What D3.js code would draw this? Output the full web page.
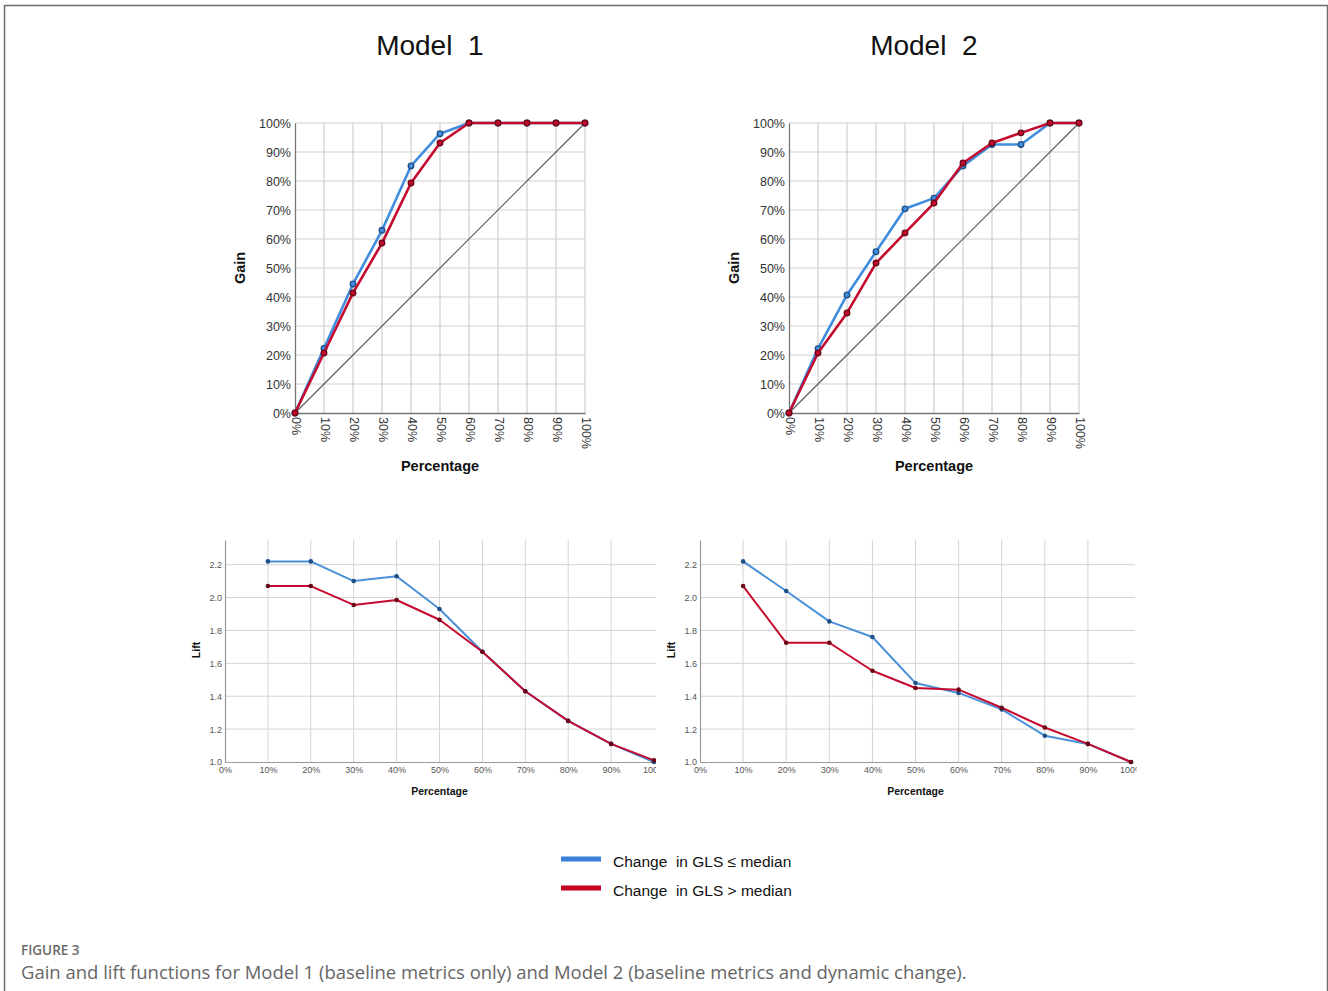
<!DOCTYPE html>
<html>
<head>
<meta charset="utf-8">
<script src="https://cdn.jsdelivr.net/npm/d3@7"></script>
<style>
  body { margin: 0; background: #fff; }
  svg text { white-space: pre; }
</style>
</head>
<body>
<svg id="fig" width="1328" height="991"></svg>
<script>
// percentages on the x axis
const pct = [0, 10, 20, 30, 40, 50, 60, 70, 80, 90, 100];
const liftPct = [10, 20, 30, 40, 50, 60, 70, 80, 90, 100];

// gain values (%)
const gain1Low = [0, 22.3, 44.5, 63, 85.2, 96.3, 100, 100, 100, 100, 100];
const gain1High = [0, 20.7, 41.4, 58.6, 79.3, 93.1, 100, 100, 100, 100, 100];
const gain2Low = [0, 22.2, 40.7, 55.6, 70.4, 74.1, 85.2, 92.6, 92.6, 100, 100];
const gain2High = [0, 20.7, 34.5, 51.7, 62.1, 72.4, 86.2, 93.1, 96.6, 100, 100];

// lift values
const lift1Low = [2.22, 2.22, 2.1, 2.13, 1.93, 1.67, 1.43, 1.25, 1.11, 1.0];
const lift1High = [2.07, 2.07, 1.955, 1.985, 1.865, 1.67, 1.43, 1.25, 1.11, 1.01];
const lift2Low = [2.22, 2.04, 1.855, 1.76, 1.48, 1.42, 1.32, 1.16, 1.11, 1.0];
const lift2High = [2.07, 1.725, 1.725, 1.555, 1.45, 1.44, 1.33, 1.21, 1.11, 1.0];

const gainTicks = [0, 10, 20, 30, 40, 50, 60, 70, 80, 90, 100];
const liftTicks = [1.0, 1.2, 1.4, 1.6, 1.8, 2.0, 2.2];

const seriesNames = ["Change  in GLS \u2264 median", "Change  in GLS > median"];

const blue = "#3f8ddc", red = "#c40a2e";
const blueDot = "#1f4f86", redDot = "#6a0617";
const sans = "'Liberation Sans', Arial, sans-serif";

const svg = d3.select("#fig");

// frame
svg.append("path")
  .attr("d", "M4.5,1000 V5.5 H1327.5 V1000")
  .attr("fill", "none")
  .attr("stroke", "#6e6e6e")
  .attr("stroke-width", 1.5);

function gainChart(left, low, high, title) {
  const x = d3.scaleLinear().domain([0, 100]).range([left, left + 290]);
  const y = d3.scaleLinear().domain([0, 100]).range([413, 123]);
  const g = svg.append("g");

  g.append("text")
    .attr("x", x(46.5))
    .attr("y", 55)
    .attr("text-anchor", "middle")
    .attr("font-family", sans)
    .attr("font-size", 28)
    .attr("fill", "#111")
    .text(title);

  // grid
  g.selectAll(".vg").data(gainTicks.slice(1)).enter().append("line")
    .attr("x1", (d) => x(d)).attr("x2", (d) => x(d))
    .attr("y1", y(0)).attr("y2", y(100))
    .attr("stroke", "#cfcfcf").attr("stroke-width", 1.2);
  g.selectAll(".hg").data(gainTicks.slice(1)).enter().append("line")
    .attr("x1", x(0)).attr("x2", x(100))
    .attr("y1", (d) => y(d)).attr("y2", (d) => y(d))
    .attr("stroke", "#cfcfcf").attr("stroke-width", 1.2);

  // axes
  const yAxis = g.append("g")
    .attr("transform", "translate(" + x(0) + ",0)")
    .call(d3.axisLeft(y).tickValues(gainTicks).tickSize(0).tickPadding(4)
      .tickFormat((d) => d + "%"));
  yAxis.select(".domain").attr("stroke", "#777").attr("stroke-width", 1.3);
  yAxis.selectAll("text")
    .attr("font-family", sans)
    .attr("font-size", 12.5).attr("fill", "#333");

  const xAxis = g.append("g")
    .attr("transform", "translate(0," + y(0) + ")")
    .call(d3.axisBottom(x).tickValues(gainTicks).tickSize(0)
      .tickFormat((d) => d + "%"));
  xAxis.select(".domain").attr("stroke", "#777").attr("stroke-width", 1.3);
  xAxis.selectAll("text")
    .attr("font-family", sans)
    .attr("font-size", 12.5).attr("fill", "#333")
    .attr("text-anchor", "start")
    .attr("dy", null)
    .attr("dominant-baseline", "central")
    .attr("transform", "translate(0,4) rotate(90)")
    .attr("y", 0).attr("x", 0);

  g.append("text")
    .attr("transform", "translate(" + (x(0) - 50) + "," + y(50) + ") rotate(-90)")
    .attr("text-anchor", "middle")
    .attr("font-family", sans)
    .attr("font-weight", "bold").attr("font-size", 14.5).attr("fill", "#111")
    .text("Gain");
  g.append("text")
    .attr("x", x(50)).attr("y", 471)
    .attr("text-anchor", "middle")
    .attr("font-family", sans)
    .attr("font-weight", "bold").attr("font-size", 14.5).attr("fill", "#111")
    .text("Percentage");

  // diagonal baseline
  g.append("line")
    .attr("x1", x(0)).attr("y1", y(0)).attr("x2", x(100)).attr("y2", y(100))
    .attr("stroke", "#555").attr("stroke-width", 1.1);

  const line = d3.line().x((d, i) => x(pct[i])).y((d) => y(d));
  [[low, blue, blueDot], [high, red, redDot]].forEach(([vals, c, dc]) => {
    g.append("path").datum(vals)
      .attr("d", line).attr("fill", "none")
      .attr("stroke", c).attr("stroke-width", 2.6)
      .attr("stroke-linejoin", "round");
    g.selectAll(null).data(vals).enter().append("circle")
      .attr("cx", (d, i) => x(pct[i])).attr("cy", (d) => y(d))
      .attr("r", 2.8).attr("fill", c)
      .attr("stroke", dc).attr("stroke-width", 1.3);
  });
}

function liftChart(left, right, clipRight, low, high) {
  const x = d3.scaleLinear().domain([0, 100]).range([left, right]);
  const y = d3.scaleLinear().domain([1.0, 2.35]).range([762, 540]);
  const id = "clip" + left;
  svg.append("clipPath").attr("id", id).append("rect")
    .attr("x", left - 60).attr("y", 500).attr("width", clipRight - left + 60).attr("height", 320);
  const g = svg.append("g").attr("clip-path", "url(#" + id + ")");

  g.selectAll(".vg").data(liftPct.slice(0, 9)).enter().append("line")
    .attr("x1", (d) => x(d)).attr("x2", (d) => x(d))
    .attr("y1", y(1.0)).attr("y2", y(2.35))
    .attr("stroke", "#d4d4d4").attr("stroke-width", 1);
  g.selectAll(".hg").data(liftTicks.slice(1)).enter().append("line")
    .attr("x1", x(0)).attr("x2", x(100) + 4)
    .attr("y1", (d) => y(d)).attr("y2", (d) => y(d))
    .attr("stroke", "#d4d4d4").attr("stroke-width", 1);

  const yAxis = g.append("g")
    .attr("transform", "translate(" + x(0) + ",0)")
    .call(d3.axisLeft(y).tickValues(liftTicks).tickSize(0).tickPadding(3)
      .tickFormat(d3.format(".1f")));
  yAxis.select(".domain").attr("stroke", "#999").attr("stroke-width", 1.2);
  yAxis.selectAll("text")
    .attr("font-family", sans)
    .attr("font-size", 9).attr("fill", "#555");

  const xAxis = g.append("g")
    .attr("transform", "translate(0," + y(1.0) + ")")
    .call(d3.axisBottom(x).tickValues(pct).tickSize(0).tickPadding(5)
      .tickFormat((d) => d + "%"));
  xAxis.select(".domain").attr("stroke", "#999").attr("stroke-width", 1.2);
  xAxis.selectAll("text")
    .attr("font-family", sans)
    .attr("font-size", 9).attr("fill", "#555");

  g.append("text")
    .attr("transform", "translate(" + (x(0) - 25) + "," + 650 + ") rotate(-90)")
    .attr("text-anchor", "middle")
    .attr("font-family", sans)
    .attr("font-weight", "bold").attr("font-size", 10.5).attr("fill", "#111")
    .text("Lift");
  g.append("text")
    .attr("x", x(50)).attr("y", 795)
    .attr("text-anchor", "middle")
    .attr("font-family", sans)
    .attr("font-weight", "bold").attr("font-size", 10.5).attr("fill", "#111")
    .text("Percentage");

  const line = d3.line().x((d, i) => x(liftPct[i])).y((d) => y(d));
  [[low, "#4a90d9", blueDot], [high, red, redDot]].forEach(([vals, c, dc]) => {
    g.append("path").datum(vals)
      .attr("d", line).attr("fill", "none")
      .attr("stroke", c).attr("stroke-width", 2)
      .attr("stroke-linejoin", "round");
    g.selectAll(null).data(vals).enter().append("circle")
      .attr("cx", (d, i) => x(liftPct[i])).attr("cy", (d) => y(d))
      .attr("r", 2.3).attr("fill", dc);
  });
}

gainChart(295, gain1Low, gain1High, "Model  1");
gainChart(789, gain2Low, gain2High, "Model  2");
liftChart(225, 654, 656, lift1Low, lift1High);
liftChart(700, 1131, 1137, lift2Low, lift2High);

// legend
const legend = svg.append("g");
[blue, red].forEach((c, i) => {
  legend.append("line")
    .attr("x1", 561).attr("x2", 601)
    .attr("y1", 859 + i * 29).attr("y2", 859 + i * 29)
    .attr("stroke", c === blue ? "#3a80d8" : "#c4001f")
    .attr("stroke-width", 5);
  legend.append("text")
    .attr("x", 613).attr("y", 867 + i * 29)
    .attr("font-family", sans)
    .attr("font-size", 15.5).attr("fill", "#111")
    .text(seriesNames[i]);
});

// caption
svg.append("text")
  .attr("x", 21).attr("y", 955)
  .style("font-family", "'Open Sans', sans-serif")
  .style("font-size", "13.5px").style("font-weight", 600).attr("fill", "#6a6a6a")
  .text("FIGURE 3");
const cap = svg.append("text")
  .attr("x", 21).attr("y", 979)
  .style("font-family", "'Open Sans', sans-serif")
  .style("font-size", "17px").attr("fill", "#666")
  .text("Gain and lift functions for Model 1 (baseline metrics only) and Model 2 (baseline metrics and dynamic change).");
// the original caption runs to about x = 967
const capW = cap.node().getComputedTextLength();
if (Math.abs(capW - 946) > 10) cap.style("font-size", (17 * 946 / capW).toFixed(2) + "px");
</script>
</body>
</html>
